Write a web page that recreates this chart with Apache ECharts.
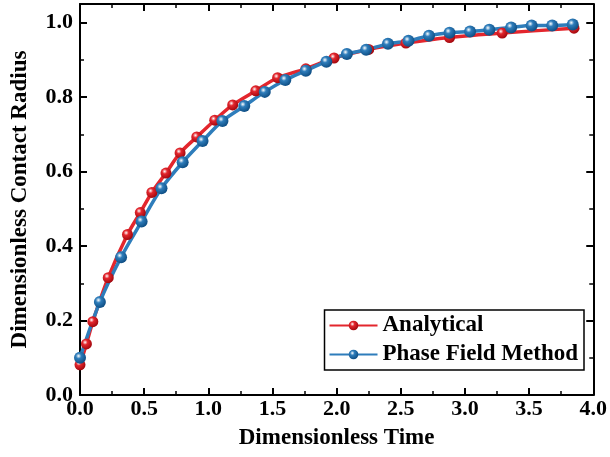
<!DOCTYPE html>
<html>
<head>
<meta charset="utf-8">
<script src="https://cdn.jsdelivr.net/npm/echarts@6/dist/echarts.min.js"></script>
<style>html,body{margin:0;padding:0;background:#fff}#c{width:610px;height:457px}</style>
</head>
<body>
<div id="c"></div>
<script>
const analyticalX = [0.0, 0.05, 0.10, 0.22, 0.37, 0.47, 0.56, 0.67, 0.78, 0.91, 1.05, 1.19, 1.37, 1.54, 1.76, 1.98, 2.25, 2.54, 2.88, 3.29, 3.85];
const analyticalY = [0.081, 0.137, 0.197, 0.315, 0.431, 0.49, 0.544, 0.596, 0.65, 0.693, 0.738, 0.779, 0.817, 0.852, 0.876, 0.905, 0.928, 0.945, 0.960, 0.972, 0.985];
const phaseX = [0.0, 0.155, 0.32, 0.48, 0.635, 0.80, 0.955, 1.11, 1.28, 1.44, 1.60, 1.76, 1.92, 2.08, 2.23, 2.40, 2.56, 2.72, 2.88, 3.04, 3.19, 3.36, 3.52, 3.68, 3.84];
const phaseY = [0.10, 0.25, 0.37, 0.466, 0.555, 0.625, 0.682, 0.736, 0.776, 0.814, 0.846, 0.871, 0.895, 0.916, 0.927, 0.943, 0.951, 0.965, 0.973, 0.976, 0.981, 0.987, 0.992, 0.992, 0.995];
const xTitle = 'Dimensionless Time';
const yTitle = 'Dimensionless Contact Radius';
const seriesNames = ['Analytical', 'Phase Field Method'];

const FONT = '"Liberation Serif", "Times New Roman", serif';
const RED = '#e3262d', BLUE = '#2e7dbb';
function sphere(c, dark) {
  return {type:'radial', x:0.38, y:0.35, r:0.65, colorStops:[
    {offset:0, color:'#ffffff'}, {offset:0.35, color:c}, {offset:1, color:dark}]};
}
const zip = (xs, ys) => xs.map((x, i) => [x, ys[i]]);
const axisCommon = {
  axisLine:{show:true, onZero:false, lineStyle:{color:'#000', width:2}},
  axisTick:{show:true, inside:true, length:7, lineStyle:{color:'#000', width:2}},
  minorTick:{show:true, splitNumber:2, length:4, lineStyle:{color:'#000', width:1.5}},
  splitLine:{show:false}
};
const labelStyle = {fontFamily:FONT, fontWeight:'bold', fontSize:22, color:'#000'};
const titleStyle = {fontFamily:FONT, fontWeight:'bold', fontSize:23, color:'#000'};
const chart = echarts.init(document.getElementById('c'), null, {renderer:'canvas'});
chart.setOption({
  animation:false,
  backgroundColor:'#fff',
  grid:{left:80, right:14, top:4, bottom:62, containLabel:false},
  legend:{
    orient:'vertical', right:26, top:310,
    data:seriesNames,
    itemWidth:48, itemHeight:12, itemGap:6,
    padding:[4, 6, 4, 4],
    borderColor:'#000', borderWidth:1.5,
    textStyle:{fontFamily:FONT, fontWeight:'bold', fontSize:23, color:'#000', padding:[0,0,0,0]}
  },
  xAxis:[
    Object.assign({type:'value', min:0, max:4, interval:0.5, position:'bottom',
      name:xTitle, nameLocation:'middle', nameGap:32, nameTextStyle:titleStyle,
      axisLabel:Object.assign({margin:3, formatter:v => v.toFixed(1)}, labelStyle)}, axisCommon),
    Object.assign({type:'value', min:0, max:4, interval:0.5, position:'top',
      axisLabel:{show:false}}, axisCommon)
  ],
  yAxis:[
    Object.assign({type:'value', min:0, max:1.05, interval:0.2, position:'left',
      name:yTitle, nameLocation:'middle', nameGap:48, nameTextStyle:titleStyle,
      axisLabel:Object.assign({margin:7, showMaxLabel:false, formatter:v => v.toFixed(1)}, labelStyle)}, axisCommon),
    Object.assign({type:'value', min:0, max:1.05, interval:0.2, position:'right',
      axisLabel:{show:false}}, axisCommon)
  ],
  series:[
    {name:seriesNames[0], type:'line', smooth:0.3, xAxisIndex:0, yAxisIndex:0,
     data:zip(analyticalX, analyticalY), symbol:'circle', symbolSize:11,
     lineStyle:{color:RED, width:3.5}, itemStyle:{color:sphere(RED, '#a3080e'), borderWidth:0}},
    {name:seriesNames[1], type:'line', smooth:0.3, xAxisIndex:0, yAxisIndex:0,
     data:zip(phaseX, phaseY), symbol:'circle', symbolSize:12,
     lineStyle:{color:BLUE, width:3.5}, itemStyle:{color:sphere(BLUE, '#0f4f85'), borderWidth:0}}
  ]
});
</script>
</body>
</html>
